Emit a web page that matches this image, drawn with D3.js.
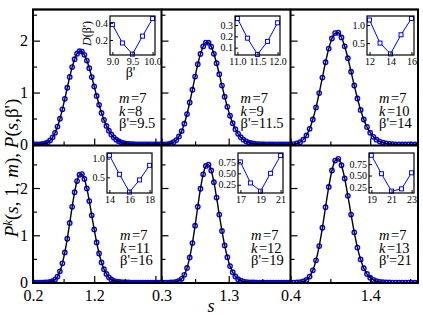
<!DOCTYPE html>
<html>
<head>
<meta charset="utf-8">
<script src="https://cdn.jsdelivr.net/npm/d3@7"></script>
<style>
  body { margin: 0; background: #fff; }
  text { font-family: 'Liberation Serif', 'DejaVu Serif', serif; }
</style>
</head>
<body>
<script>
// spacing grid shared by every panel
var sGrid = [0.20, 0.24, 0.28, 0.32, 0.36, 0.40, 0.44, 0.48, 0.52, 0.56, 0.60, 0.64, 0.68,
  0.72, 0.76, 0.80, 0.84, 0.88, 0.92, 0.96, 1.00, 1.04, 1.08, 1.12, 1.16, 1.20, 1.24, 1.28,
  1.32, 1.36, 1.40, 1.44, 1.48, 1.52, 1.56, 1.60, 1.64, 1.68, 1.72, 1.76, 1.80, 1.84, 1.88,
  1.92, 1.96, 2.00, 2.04, 2.08, 2.12, 2.16, 2.20, 2.24, 2.28];

// P^k(s,1,m) (k = 8 .. 13)
var pK8 = [0, 0, 0.001, 0.003, 0.009, 0.020, 0.042, 0.079, 0.138, 0.225, 0.344, 0.495, 0.676,
  0.880, 1.093, 1.302, 1.491, 1.643, 1.748, 1.798, 1.789, 1.726, 1.616, 1.469, 1.299, 1.118,
  0.936, 0.764, 0.608, 0.472, 0.358, 0.265, 0.192, 0.135, 0.093, 0.063, 0.042, 0.027, 0.017,
  0.011, 0.006, 0.004, 0.002, 0.001, 0.001, 0, 0, 0, 0, 0, 0, 0, 0];
var pK9 = [0, 0, 0, 0.001, 0.003, 0.008, 0.020, 0.043, 0.085, 0.154, 0.257, 0.401, 0.586,
  0.808, 1.054, 1.307, 1.545, 1.745, 1.888, 1.962, 1.959, 1.884, 1.747, 1.565, 1.355, 1.135,
  0.921, 0.725, 0.553, 0.409, 0.294, 0.206, 0.140, 0.092, 0.060, 0.037, 0.023, 0.014, 0.008,
  0.004, 0.002, 0.001, 0.001, 0, 0, 0, 0, 0, 0, 0, 0, 0, 0];
var pK10 = [0, 0, 0, 0, 0.001, 0.003, 0.008, 0.020, 0.045, 0.093, 0.175, 0.302, 0.481,
  0.713, 0.989, 1.289, 1.586, 1.847, 2.041, 2.146, 2.152, 2.062, 1.891, 1.662, 1.401, 1.136,
  0.885, 0.665, 0.481, 0.336, 0.226, 0.147, 0.093, 0.056, 0.033, 0.019, 0.010, 0.006, 0.003,
  0.002, 0.001, 0, 0, 0, 0, 0, 0, 0, 0, 0, 0, 0, 0];
var pK11 = [0, 0, 0, 0, 0, 0.001, 0.004, 0.011, 0.027, 0.062, 0.127, 0.238, 0.406,
  0.638, 0.929, 1.261, 1.602, 1.911, 2.148, 2.281, 2.295, 2.192, 1.991, 1.724, 1.423, 1.123,
  0.848, 0.614, 0.425, 0.283, 0.181, 0.111, 0.066, 0.037, 0.021, 0.011, 0.006, 0.003, 0.001,
  0.001, 0, 0, 0, 0, 0, 0, 0, 0, 0, 0, 0, 0, 0];
var pK12 = [0, 0, 0, 0, 0, 0, 0.001, 0.004, 0.012, 0.033, 0.078, 0.164, 0.310,
  0.532, 0.835, 1.204, 1.604, 1.985, 2.289, 2.467, 2.495, 2.371, 2.124, 1.797, 1.438, 1.091,
  0.785, 0.537, 0.349, 0.217, 0.128, 0.072, 0.039, 0.020, 0.010, 0.005, 0.002, 0.001, 0,
  0, 0, 0, 0, 0, 0, 0, 0, 0, 0, 0, 0, 0, 0];
var pK13 = [0, 0, 0, 0, 0, 0, 0, 0.002, 0.007, 0.022, 0.056, 0.127, 0.258,
  0.469, 0.772, 1.159, 1.595, 2.022, 2.371, 2.582, 2.619, 2.482, 2.203, 1.835, 1.438, 1.062,
  0.740, 0.488, 0.304, 0.180, 0.101, 0.054, 0.027, 0.013, 0.006, 0.003, 0.001, 0, 0,
  0, 0, 0, 0, 0, 0, 0, 0, 0, 0, 0, 0, 0, 0];

// insets: D(beta') against beta'
var bK8 = [9.0, 9.25, 9.5, 9.75, 10.0],  dK8 = [0.38, 0.165, 0.035, 0.245, 0.45];
var bK9 = [11.0, 11.25, 11.5, 11.75, 12.0], dK9 = [0.358, 0.184, 0.04, 0.155, 0.32];
var bK10 = [12, 13, 14, 15, 16], dK10 = [1.14, 0.50, 0.20, 0.73, 1.18];
var bK11 = [14, 15, 16, 17, 18], dK11 = [1.09, 0.58, 0.105, 0.43, 0.82];
var bK12 = [17, 18, 19, 20, 21], dK12 = [0.75, 0.29, 0.11, 0.50, 0.89];
var bK13 = [19, 20, 21, 22, 23], dK13 = [0.94, 0.54, 0.16, 0.21, 0.56];

var mVals = [7, 7, 7, 7, 7, 7];
var kVals = [8, 9, 10, 11, 12, 13];
var betaLabels = ['9.5', '11.5', '14', '16', '19', '21'];

var xTickLabels = [[0.2, 1.2], [0.3, 1.3], [0.4, 1.4]];
var yTickLabels = [0, 1, 2];
var insetXTicks = [[9.0, 9.5, 10.0], [11.0, 11.5, 12.0], [12, 14, 16], [14, 16, 18], [17, 19, 21], [19, 21, 23]];
var insetYTicks = [[0.2, 0.4], [0.1, 0.2, 0.3], [0.5, 1.0], [0.5, 1.0], [0.25, 0.5, 0.75], [0.25, 0.5, 0.75]];

// ---- layout ----
var W = 423, H = 315;
var colX = [[33, 161.5], [161.5, 290.5], [290.5, 418]];
var rowY = [[9.5, 145.5], [145.5, 283]];
var colDom = [[0.2, 2.3], [0.3, 2.22], [0.4, 2.0]];
var rowDom = [[-0.02, 2.6], [-0.01, 2.9]];
var insetBox = [[110, 16, 45, 39], [235, 16, 45, 39], [367, 16, 47, 39],
  [107, 153, 45, 40], [238, 153, 45, 40], [369, 153, 45, 40]];
var insetYDom = [[0.025, 0.48], [0.035, 0.38], [0.17, 1.25], [0.08, 1.15], [0.07, 0.945], [0.12, 0.99]];
var labelPos = [[119, 103], [240.5, 103], [379, 103], [120, 240], [251, 240], [379, 240]];

var series = [pK8, pK9, pK10, pK11, pK12, pK13];
var insetB = [bK8, bK9, bK10, bK11, bK12, bK13];
var insetD = [dK8, dK9, dK10, dK11, dK12, dK13];
var blue = '#0000ff';

var svg = d3.select('body').append('svg')
  .attr('width', W).attr('height', H);

var fmt = d3.format('.1f');

series.forEach(function(arr, i) {
  var r = Math.floor(i / 3), c = i % 3;
  var x = d3.scaleLinear().domain(colDom[c]).range(colX[c]);
  var y = d3.scaleLinear().domain(rowDom[r]).range([rowY[r][1], rowY[r][0]]);
  var g = svg.append('g');

  g.append('clipPath').attr('id', 'clip' + i)
    .append('rect')
    .attr('x', colX[c][0]).attr('y', rowY[r][0])
    .attr('width', colX[c][1] - colX[c][0]).attr('height', rowY[r][1] - rowY[r][0]);

  var pts = sGrid.map(function(s, j) { return {s: s, p: arr[j]}; });

  var plot = g.append('g').attr('clip-path', 'url(#clip' + i + ')');
  plot.selectAll('circle')
    .data(pts)
    .enter().append('circle')
    .attr('cx', function(d) { return x(d.s); })
    .attr('cy', function(d) { return y(d.p); })
    .attr('r', 2.2)
    .attr('fill', 'none')
    .attr('stroke', blue)
    .attr('stroke-width', 1.4);

  var line = d3.line()
    .x(function(d) { return x(d.s); })
    .y(function(d) { return y(d.p); })
    .curve(d3.curveMonotoneX);
  plot.append('path')
    .datum(pts)
    .attr('d', line)
    .attr('fill', 'none')
    .attr('stroke', '#000')
    .attr('stroke-width', 1.4);

  // y axis: major + minor ticks pointing inward
  var yMaj = d3.axisLeft(y).tickValues(yTickLabels).tickSizeInner(-7).tickSizeOuter(0).tickPadding(5)
    .tickFormat(c === 0 ? d3.format('d') : '');
  var yMin = d3.axisLeft(y).tickValues([0.5, 1.5, 2.5]).tickSizeInner(-4).tickSizeOuter(0).tickFormat('');
  g.append('g').attr('transform', 'translate(' + colX[c][0] + ',0)').call(yMaj)
    .call(function(a) { a.select('.domain').remove(); a.selectAll('text').attr('font-size', 16).attr('font-family', 'Liberation Serif'); });
  g.append('g').attr('transform', 'translate(' + colX[c][0] + ',0)').call(yMin)
    .call(function(a) { a.select('.domain').remove(); });

  // x axis
  var lo = colDom[c][0];
  var xMaj = d3.axisBottom(x).tickValues([lo, lo + 1, lo + 2].filter(function(v) { return v <= colDom[c][1]; }))
    .tickSizeInner(-7).tickSizeOuter(0).tickPadding(5)
    .tickFormat(function(v) {
      return (r === 1 && xTickLabels[c].some(function(t) { return Math.abs(t - v) < 1e-6; })) ? fmt(v) : '';
    });
  var xMin = d3.axisBottom(x).tickValues([lo + 0.5, lo + 1.5].filter(function(v) { return v <= colDom[c][1]; }))
    .tickSizeInner(-4).tickSizeOuter(0).tickFormat('');
  g.append('g').attr('transform', 'translate(0,' + rowY[r][1] + ')').call(xMaj)
    .call(function(a) { a.select('.domain').remove(); a.selectAll('text').attr('font-size', 16).attr('font-family', 'Liberation Serif').attr('dy', '0.8em'); });
  g.append('g').attr('transform', 'translate(0,' + rowY[r][1] + ')').call(xMin)
    .call(function(a) { a.select('.domain').remove(); });

  g.selectAll('.tick line').attr('stroke', '#000').attr('stroke-width', 1.2);

  // frame
  g.append('rect')
    .attr('x', colX[c][0]).attr('y', rowY[r][0])
    .attr('width', colX[c][1] - colX[c][0]).attr('height', rowY[r][1] - rowY[r][0])
    .attr('fill', 'none').attr('stroke', '#000').attr('stroke-width', 1.6);

  // parameters
  var lp = labelPos[i];
  var t1 = g.append('text').attr('x', lp[0]).attr('y', lp[1]).attr('font-size', 14.5);
  t1.append('tspan').attr('font-style', 'italic').text('m');
  t1.append('tspan').attr('dx', 1.5).text('=' + mVals[i]);
  var t2 = g.append('text').attr('x', lp[0]).attr('y', lp[1] + 12.5).attr('font-size', 14.5);
  t2.append('tspan').attr('font-style', 'italic').text('k');
  t2.append('tspan').attr('dx', 1.5).text('=' + kVals[i]);
  g.append('text').attr('x', lp[0]).attr('y', lp[1] + 25).attr('font-size', 14.5)
    .text("\u03b2'=" + betaLabels[i]);

  // inset
  var ib = insetBox[i];
  var bx = insetB[i], dy = insetD[i];
  var bPad = (bx[bx.length - 1] - bx[0]) * 0.06;
  var ix = d3.scaleLinear().domain([bx[0] - bPad, bx[bx.length - 1] + bPad]).range([ib[0], ib[0] + ib[2]]);
  var iy = d3.scaleLinear().domain(insetYDom[i]).range([ib[1] + ib[3], ib[1]]);
  var ig = g.append('g');
  ig.append('rect').attr('x', ib[0]).attr('y', ib[1]).attr('width', ib[2]).attr('height', ib[3])
    .attr('fill', '#fff').attr('stroke', 'none');
  var ipts = bx.map(function(b, j) { return {b: b, d: dy[j]}; });
  ig.append('path').datum(ipts)
    .attr('d', d3.line().x(function(d) { return ix(d.b); }).y(function(d) { return iy(d.d); }))
    .attr('fill', 'none').attr('stroke', blue).attr('stroke-width', 1);
  ig.selectAll('rect.sq').data(ipts).enter().append('rect')
    .attr('class', 'sq')
    .attr('x', function(d) { return ix(d.b) - 2; })
    .attr('y', function(d) { return iy(d.d) - 2; })
    .attr('width', 4).attr('height', 4)
    .attr('fill', '#fff').attr('stroke', blue).attr('stroke-width', 1);

  var iyAx = d3.axisLeft(iy).tickValues(insetYTicks[i]).tickSizeInner(-3).tickSizeOuter(0).tickPadding(2)
    .tickFormat(i >= 4 ? d3.format('.2f') : d3.format('.1f'));
  ig.append('g').attr('transform', 'translate(' + ib[0] + ',0)').call(iyAx)
    .call(function(a) { a.select('.domain').remove(); a.selectAll('text').attr('font-size', 10).attr('font-family', 'Liberation Serif'); });
  var ixAx = d3.axisBottom(ix).tickValues(insetXTicks[i]).tickSizeInner(-3).tickSizeOuter(0).tickPadding(2)
    .tickFormat(i < 2 ? d3.format('.1f') : d3.format('d'));
  ig.append('g').attr('transform', 'translate(0,' + (ib[1] + ib[3]) + ')').call(ixAx)
    .call(function(a) { a.select('.domain').remove(); a.selectAll('text').attr('font-size', 10).attr('font-family', 'Liberation Serif').attr('dy', '0.75em'); });
  ig.selectAll('.tick line').attr('stroke', '#000');
  ig.append('rect').attr('x', ib[0]).attr('y', ib[1]).attr('width', ib[2]).attr('height', ib[3])
    .attr('fill', 'none').attr('stroke', '#000').attr('stroke-width', 1.2);

  if (i === 0) {
    var dl = ig.append('text')
      .attr('transform', 'translate(' + (ib[0] - 19) + ',' + (ib[1] + ib[3] / 2 - 2) + ') rotate(-90)')
      .attr('text-anchor', 'middle').attr('font-size', 12);
    dl.append('tspan').attr('font-style', 'italic').text('D');
    dl.append('tspan').text("(\u03b2')");
    ig.append('text').attr('x', ib[0] + ib[2] / 2 - 2).attr('y', ib[1] + ib[3] + 22)
      .attr('text-anchor', 'middle').attr('font-size', 14).text("\u03b2'");
  }
});

// outer frame
svg.append('rect').attr('x', colX[0][0]).attr('y', rowY[0][0])
  .attr('width', colX[2][1] - colX[0][0]).attr('height', rowY[1][1] - rowY[0][0])
  .attr('fill', 'none').attr('stroke', '#000').attr('stroke-width', 2);

// axis titles
var yt = svg.append('text')
  .attr('transform', 'translate(18,168) rotate(-90)')
  .attr('text-anchor', 'middle').attr('font-size', 19);
yt.append('tspan').attr('font-style', 'italic').text('P');
yt.append('tspan').attr('font-style', 'italic').attr('font-size', 13).attr('dy', -6).text('k');
yt.append('tspan').attr('dy', 6).text('(');
yt.append('tspan').attr('font-style', 'italic').text('s');
yt.append('tspan').text(', 1, ');
yt.append('tspan').attr('font-style', 'italic').text('m');
yt.append('tspan').text('), ');
yt.append('tspan').attr('font-style', 'italic').text('P');
yt.append('tspan').text('(');
yt.append('tspan').attr('font-style', 'italic').text('s');
yt.append('tspan').text(",\u03b2')");

svg.append('text').attr('x', 211).attr('y', 312)
  .attr('text-anchor', 'middle').attr('font-size', 18).attr('font-style', 'italic').text('s');
</script>
</body>
</html>
